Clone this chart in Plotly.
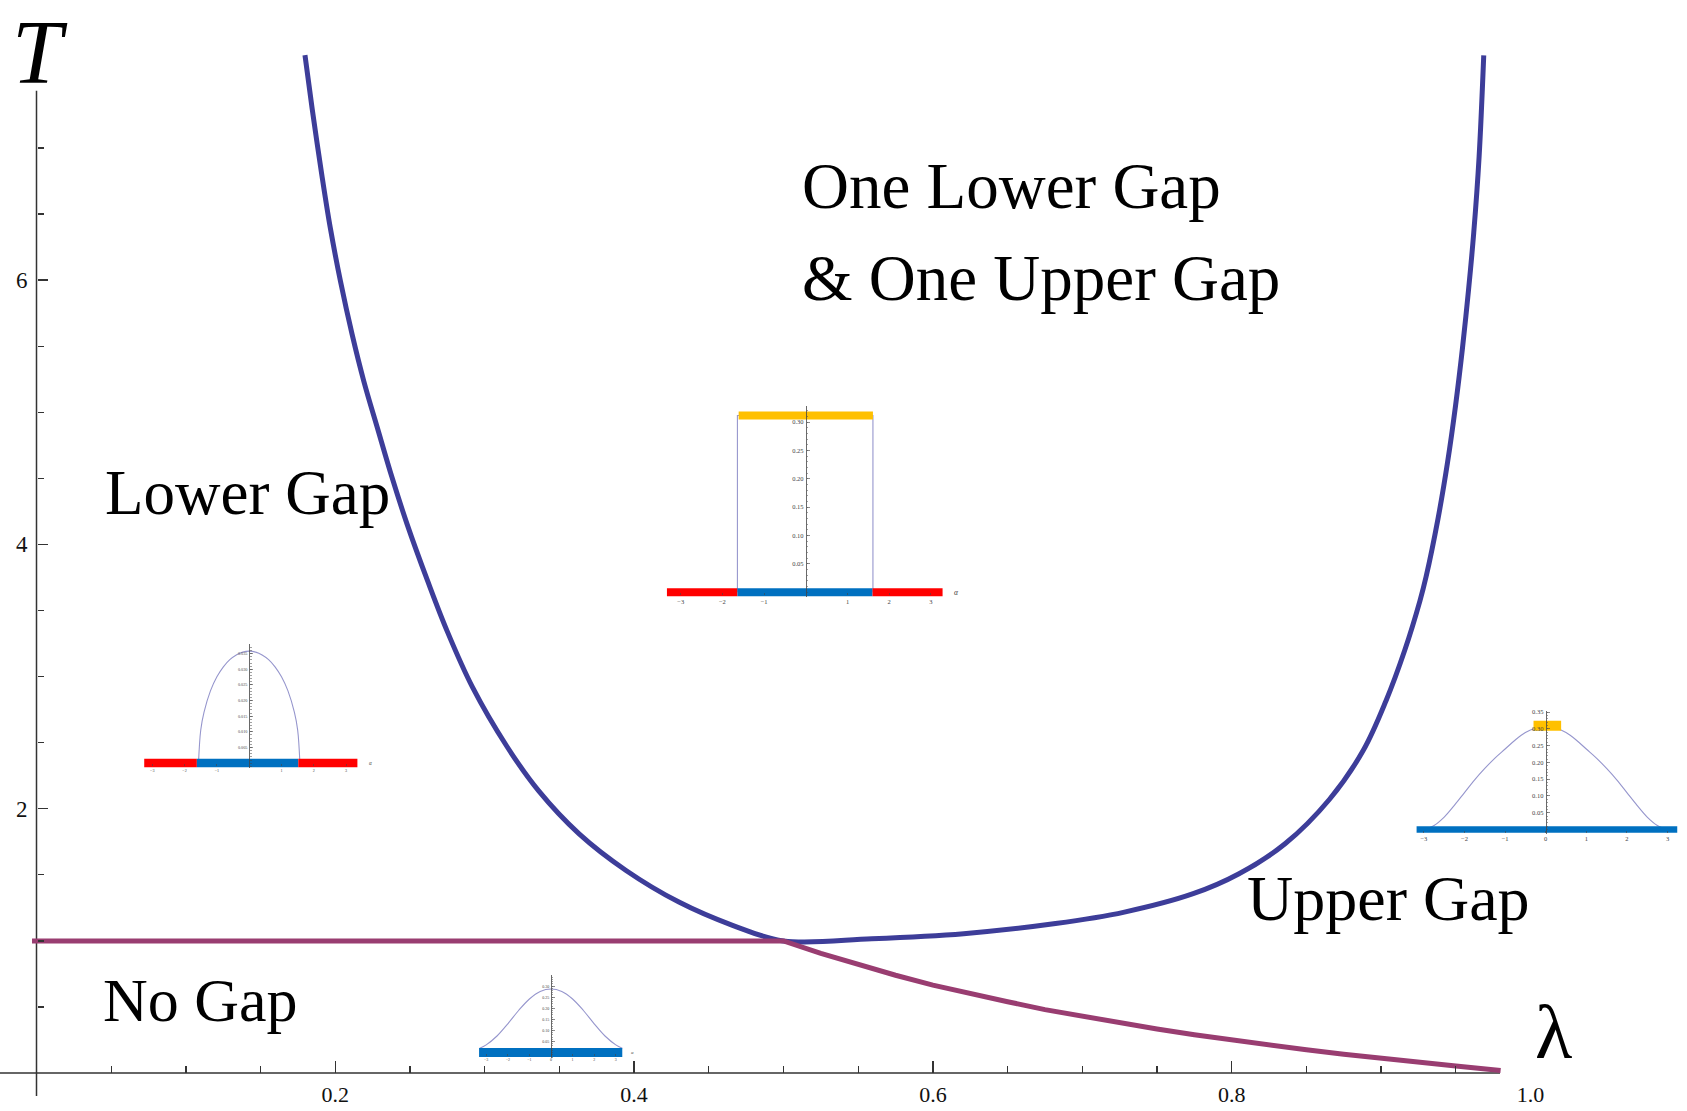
import plotly.graph_objects as go

W, H = 1687, 1111

# ---------------- data ----------------
# blue boundary (one lower gap & one upper gap region)
lam_blue = [0.1797, 0.1845, 0.1910, 0.1967, 0.2035, 0.2113, 0.2191, 0.2282, 0.2381,
            0.2481, 0.2618, 0.2748, 0.2919, 0.3149, 0.3360, 0.3632, 0.3946, 0.4300,
            0.4659, 0.5000, 0.5591, 0.6206, 0.6821, 0.7282, 0.7742, 0.8049, 0.8357,
            0.8655, 0.8880, 0.9033, 0.9157, 0.9260, 0.9301, 0.9380, 0.9445, 0.9499,
            0.9545, 0.9585, 0.9620, 0.9656, 0.9687]
T_blue = [7.702, 7.298, 6.795, 6.392, 5.989, 5.587, 5.234, 4.881, 4.502,
          4.152, 3.724, 3.346, 2.918, 2.471, 2.137, 1.810, 1.533, 1.294,
          1.118, 1.000, 1.017, 1.055, 1.131, 1.218, 1.357, 1.508, 1.735,
          2.072, 2.440, 2.817, 3.195, 3.573, 3.755, 4.189, 4.622, 5.056,
          5.489, 5.923, 6.357, 6.935, 7.701]

# purple boundary (no gap / gapped)
lam_purple = [-0.003, 0.5, 0.525, 0.55, 0.575, 0.6, 0.625, 0.65, 0.675, 0.7, 0.725,
              0.75, 0.775, 0.8, 0.825, 0.85, 0.875, 0.9, 0.925, 0.95, 0.98]
T_purple = [1.0, 1.0, 0.905, 0.82, 0.74, 0.665, 0.60, 0.54, 0.48, 0.43, 0.38,
            0.333, 0.29, 0.25, 0.212, 0.176, 0.143, 0.111, 0.081, 0.053, 0.02]

x_ticks = [0.2, 0.4, 0.6, 0.8]
x_tick_labels_vals = [0.2, 0.4, 0.6, 0.8, 1.0]
x_tick_text = ["0.2", "0.4", "0.6", "0.8", "1.0"]
x_minor = [0.05, 0.1, 0.15, 0.25, 0.3, 0.35, 0.45, 0.5, 0.55, 0.65, 0.7, 0.75, 0.85, 0.9, 0.95]
y_ticks = [2, 4, 6]
y_tick_text = ["2", "4", "6"]
y_minor = [0.5, 1, 1.5, 2.5, 3, 3.5, 4.5, 5, 5.5, 6.5, 7]

region_text = ["One Lower Gap", "& One Upper Gap", "Lower Gap", "No Gap", "Upper Gap"]

# ---- inset A: "Lower Gap" eigenvalue density ----
alpha_A = [-1.57, -1.5, -1.4, -1.2, -1.0, -0.8, -0.6, -0.4, -0.2, 0.0,
           0.2, 0.4, 0.6, 0.8, 1.0, 1.2, 1.4, 1.5, 1.57]
rho_A = [0.0, 0.0106, 0.0162, 0.0231, 0.0276, 0.0308, 0.0331, 0.0346, 0.0355, 0.0358,
         0.0355, 0.0346, 0.0331, 0.0308, 0.0276, 0.0231, 0.0162, 0.0106, 0.0]
A_red_left = [-3.25, -1.62]
A_blue = [-1.62, 1.52]
A_red_right = [1.52, 3.35]
A_rho_ticks = [0.005, 0.010, 0.015, 0.020, 0.025, 0.030, 0.035]
A_rho_text = ["0.005", "0.010", "0.015", "0.020", "0.025", "0.030", "0.035"]

# ---- inset B: "One Lower Gap & One Upper Gap" density ----
alpha_B = [-1.64, -1.64, 1.61, 1.61]
rho_B = [0.0, 0.3116, 0.3116, 0.0]
B_red_left = [-3.33, -1.64]
B_blue = [-1.64, 1.60]
B_red_right = [1.60, 3.28]
B_yellow = [-1.61, 1.61]
B_yellow_level = 0.3116
B_rho_ticks = [0.05, 0.10, 0.15, 0.20, 0.25, 0.30]
B_rho_text = ["0.05", "0.10", "0.15", "0.20", "0.25", "0.30"]

# ---- inset C: "Upper Gap" density ----
alpha_C = [-3.0, -2.75, -2.5, -2.25, -2.0, -1.75, -1.5, -1.25, -1.0, -0.75, -0.5, -0.25, 0.0,
           0.25, 0.5, 0.75, 1.0, 1.25, 1.5, 1.75, 2.0, 2.25, 2.5, 2.75, 3.0]
rho_C = [0.0, 0.012, 0.037, 0.072, 0.110, 0.148, 0.182, 0.213, 0.240, 0.267, 0.289, 0.302, 0.307,
         0.302, 0.289, 0.267, 0.240, 0.213, 0.182, 0.148, 0.110, 0.072, 0.037, 0.012, 0.0]
C_blue = [-3.18, 3.24]
C_yellow = [-0.30, 0.38]
C_yellow_level = 0.3095
C_rho_ticks = [0.05, 0.10, 0.15, 0.20, 0.25, 0.30, 0.35]
C_rho_text = ["0.05", "0.10", "0.15", "0.20", "0.25", "0.30", "0.35"]

# ---- inset D: "No Gap" density ----
alpha_D = [-3.3, -3.0, -2.5, -2.0, -1.5, -1.0, -0.5, 0.0, 0.5, 1.0, 1.5, 2.0, 2.5, 3.0, 3.3]
rho_D = [0.02, 0.035, 0.075, 0.130, 0.190, 0.242, 0.276, 0.287,
         0.276, 0.242, 0.190, 0.130, 0.075, 0.035, 0.02]
D_blue = [-3.33, 3.30]
D_rho_ticks = [0.05, 0.10, 0.15, 0.20, 0.25, 0.30]
D_rho_text = ["0.05", "0.10", "0.15", "0.20", "0.25", "0.30"]

alpha_ticks_no0 = [-3, -2, -1, 1, 2, 3]
alpha_text_no0 = ["\u22123", "\u22122", "\u22121", "1", "2", "3"]
alpha_ticks_0 = [-3, -2, -1, 0, 1, 2, 3]
alpha_text_0 = ["\u22123", "\u22122", "\u22121", "0", "1", "2", "3"]

# ---------------- styling ----------------
SERIF = "Liberation Serif, Times New Roman, serif"
BLUE = "rgb(61,61,153)"
PURPLE = "rgb(153,61,113)"
RED = "rgb(255,0,0)"
BARBLUE = "rgb(0,112,192)"
YELLOW = "rgb(255,192,0)"
DENS = "rgb(150,150,205)"
AXC = "#333333"
INK = "#444444"

# main axes pixel calibration
X0_PX, PX_PER_LAM = 36.5, 1494.0
Y0_PX, PX_PER_T = 1073.0, 132.4
xr = [(0 - X0_PX) / PX_PER_LAM, (W - X0_PX) / PX_PER_LAM]
yr = [(Y0_PX - H) / PX_PER_T, Y0_PX / PX_PER_T]
x_axis_pos = (0 - yr[0]) / (yr[1] - yr[0])
y_axis_pos = (0 - xr[0]) / (xr[1] - xr[0])


def px2lam(px):
    return (px - X0_PX) / PX_PER_LAM


def py2T(py):
    return (Y0_PX - py) / PX_PER_T


fig = go.Figure()

fig.add_trace(go.Scatter(x=lam_blue, y=T_blue, mode="lines",
                         line=dict(color=BLUE, width=5, shape="spline", smoothing=1.0),
                         hoverinfo="skip", showlegend=False))
fig.add_trace(go.Scatter(x=lam_purple, y=T_purple, mode="lines",
                         line=dict(color=PURPLE, width=5),
                         hoverinfo="skip", showlegend=False))
# carrier trace for the label-only overlay axis
fig.add_trace(go.Scatter(x=[], y=[], xaxis="x6", yaxis="y", hoverinfo="skip", showlegend=False))

layout = dict(
    width=W, height=H,
    margin=dict(l=0, r=0, t=0, b=0, pad=0),
    paper_bgcolor="white", plot_bgcolor="rgba(0,0,0,0)",
    showlegend=False, hovermode=False,
    font=dict(family=SERIF, color="#111111"),
    xaxis=dict(domain=[0, 1], range=xr, anchor="free", position=x_axis_pos,
               showgrid=False, zeroline=False, showline=False,
               tickmode="array", tickvals=x_ticks, showticklabels=False,
               ticks="inside", ticklen=12, tickwidth=1.4, tickcolor=AXC,
               minor=dict(tickmode="array", tickvals=x_minor, ticks="inside",
                          ticklen=7.5, tickwidth=1.3, tickcolor=AXC),
               fixedrange=True),
    xaxis6=dict(overlaying="x", range=xr, anchor="free", position=x_axis_pos,
                showgrid=False, zeroline=False, showline=False,
                tickmode="array", tickvals=x_tick_labels_vals, ticktext=x_tick_text,
                ticks="", ticklabelstandoff=6,
                tickfont=dict(family=SERIF, size=22, color="#111111"), fixedrange=True),
    yaxis=dict(domain=[0, 1], range=yr, anchor="free", position=y_axis_pos,
               showgrid=False, zeroline=False, showline=False,
               tickmode="array", tickvals=y_ticks, ticktext=y_tick_text,
               ticks="inside", ticklen=10, tickwidth=1.4, tickcolor=AXC,
               ticklabelstandoff=9,
               tickfont=dict(family=SERIF, size=23, color="#111111"),
               minor=dict(tickmode="array", tickvals=y_minor, ticks="inside",
                          ticklen=6.5, tickwidth=1.3, tickcolor=AXC),
               fixedrange=True),
)

# main axis lines (axes cross at the origin, as in the reference)
shapes = [
    dict(type="line", xref="x", yref="y", x0=xr[0], x1=px2lam(1500), y0=0, y1=0,
         line=dict(color=AXC, width=1.5), layer="below"),
    dict(type="line", xref="x", yref="y", x0=0, x1=0, y0=py2T(1096), y1=py2T(89),
         line=dict(color=AXC, width=1.5), layer="below"),
]

annotations = []


def add_text(text, left_px, baseline_px, size, italic=False, anchor="left"):
    annotations.append(dict(
        text=text, xref="paper", yref="paper", showarrow=False,
        x=left_px / W, y=1 - (baseline_px - 0.3375 * size) / H,
        xanchor=anchor, yanchor="middle",
        font=dict(family=SERIF, size=size, color="black",
                  style="italic" if italic else "normal"),
    ))


add_text(region_text[0], 800, 206, 65)
add_text(region_text[1], 800, 298, 65)
add_text(region_text[2], 103, 513, 63)
add_text(region_text[3], 101, 1021, 62)
add_text(region_text[4], 1245, 920, 64)
add_text("\u03bb", 1533, 1058, 77)
# axis title T, kept fully inside the page (box top at the page edge)
annotations.append(dict(text="T", xref="paper", yref="paper", showarrow=False,
                        x=40 / W, y=1.0, xanchor="center", yanchor="top", borderpad=0,
                        font=dict(family=SERIF, size=90, color="black", style="italic")))

# ---------------- insets ----------------
insets = [
    dict(k=2, cx=249.2, sx=32.3, y0=762.5, sy=3133, ar=[-3.7, 3.9], rr=[-0.0016, 0.0381],
         fs=4.2, rt=A_rho_ticks, rtx=A_rho_text, md=0.001, at=alpha_ticks_no0, atx=alpha_text_no0,
         rho_lab=0.0392, alpha_lab=3.65),
    dict(k=3, cx=805.8, sx=41.7, y0=591.2, sy=568, ar=[-3.8, 3.9], rr=[-0.0085, 0.328],
         fs=6.5, rt=B_rho_ticks, rtx=B_rho_text, md=0.01, at=alpha_ticks_no0, atx=alpha_text_no0,
         rho_lab=0.334, alpha_lab=3.5),
    dict(k=4, cx=1545.7, sx=40.6, y0=829.0, sy=336, ar=[-3.5, 3.4], rr=[-0.012, 0.354],
         fs=6.5, rt=C_rho_ticks, rtx=C_rho_text, md=0.01, at=alpha_ticks_0, atx=alpha_text_0,
         rho_lab=0.362, alpha_lab=3.45),
    dict(k=5, cx=551.0, sx=21.6, y0=1052.5, sy=222, ar=[-3.8, 3.9], rr=[-0.025, 0.349],
         fs=4.0, rt=D_rho_ticks, rtx=D_rho_text, md=0.01, at=alpha_ticks_0, atx=alpha_text_0,
         rho_lab=0.36, alpha_lab=3.6),
]

for ins in insets:
    k = ins["k"]
    cx, sx, y0, sy = ins["cx"], ins["sx"], ins["y0"], ins["sy"]
    ar, rr = ins["ar"], ins["rr"]
    dom_x = [(cx + ar[0] * sx) / W, (cx + ar[1] * sx) / W]
    dom_y = [1 - (y0 - rr[0] * sy) / H, 1 - (y0 - rr[1] * sy) / H]
    tf = dict(family=SERIF, size=ins["fs"], color=INK)
    layout[f"xaxis{k}"] = dict(domain=dom_x, range=ar, anchor="free", position=1 - y0 / H,
                               showgrid=False, zeroline=False, showline=False,
                               tickmode="array", tickvals=ins["at"], ticktext=ins["atx"],
                               ticks="outside", ticklen=2, tickwidth=0.6, tickcolor=INK,
                               ticklabelstandoff=1, tickfont=tf, fixedrange=True)
    layout[f"yaxis{k}"] = dict(domain=dom_y, range=rr, anchor="free", position=cx / W,
                               showgrid=False, zeroline=False, showline=True,
                               linecolor=INK, linewidth=0.8,
                               tickmode="array", tickvals=ins["rt"], ticktext=ins["rtx"],
                               ticks="inside", ticklen=3, tickwidth=0.6, tickcolor=INK,
                               ticklabelstandoff=1, tickfont=tf,
                               minor=dict(dtick=ins["md"], tick0=0, ticks="inside", ticklen=1.5,
                                          tickwidth=0.5, tickcolor=INK),
                               fixedrange=True)
    annotations.append(dict(text="\u03c1", xref=f"x{k}", yref=f"y{k}", x=0, y=ins["rho_lab"],
                            showarrow=False, xanchor="center", yanchor="bottom",
                            font=dict(family=SERIF, size=ins["fs"] + 1, color=INK, style="italic")))
    annotations.append(dict(text="\u03b1", xref=f"x{k}", yref=f"y{k}", x=ins["alpha_lab"], y=0,
                            showarrow=False, xanchor="left", yanchor="middle",
                            font=dict(family=SERIF, size=ins["fs"] + 1, color=INK, style="italic")))


def seg(xs, level, color, width, k):
    fig.add_trace(go.Scatter(x=xs, y=[level, level], mode="lines",
                             line=dict(color=color, width=width),
                             xaxis=f"x{k}", yaxis=f"y{k}", hoverinfo="skip", showlegend=False))


def dens(xs, ys, k, shape="spline"):
    fig.add_trace(go.Scatter(x=xs, y=ys, mode="lines",
                             line=dict(color=DENS, width=1.1, shape=shape),
                             xaxis=f"x{k}", yaxis=f"y{k}", hoverinfo="skip", showlegend=False))


# inset A
dens(alpha_A, rho_A, 2)
seg(A_red_left, 0, RED, 8.5, 2)
seg(A_blue, 0, BARBLUE, 8.5, 2)
seg(A_red_right, 0, RED, 8.5, 2)
# inset B
dens(alpha_B, rho_B, 3, shape="linear")
seg(B_red_left, 0, RED, 8, 3)
seg(B_blue, 0, BARBLUE, 8, 3)
seg(B_red_right, 0, RED, 8, 3)
seg(B_yellow, B_yellow_level, YELLOW, 8, 3)
# inset C
dens(alpha_C, rho_C, 4)
seg(C_blue, 0, BARBLUE, 6.5, 4)
seg(C_yellow, C_yellow_level, YELLOW, 10, 4)
# inset D
dens(alpha_D, rho_D, 5)
seg(D_blue, 0, BARBLUE, 9, 5)

layout["shapes"] = shapes
layout["annotations"] = annotations
fig.update_layout(**layout)

fig.write_html("out.html",
               config={"displayModeBar": False, "staticPlot": True},
               post_script="document.body.style.margin='0';document.body.style.overflow='hidden';")
